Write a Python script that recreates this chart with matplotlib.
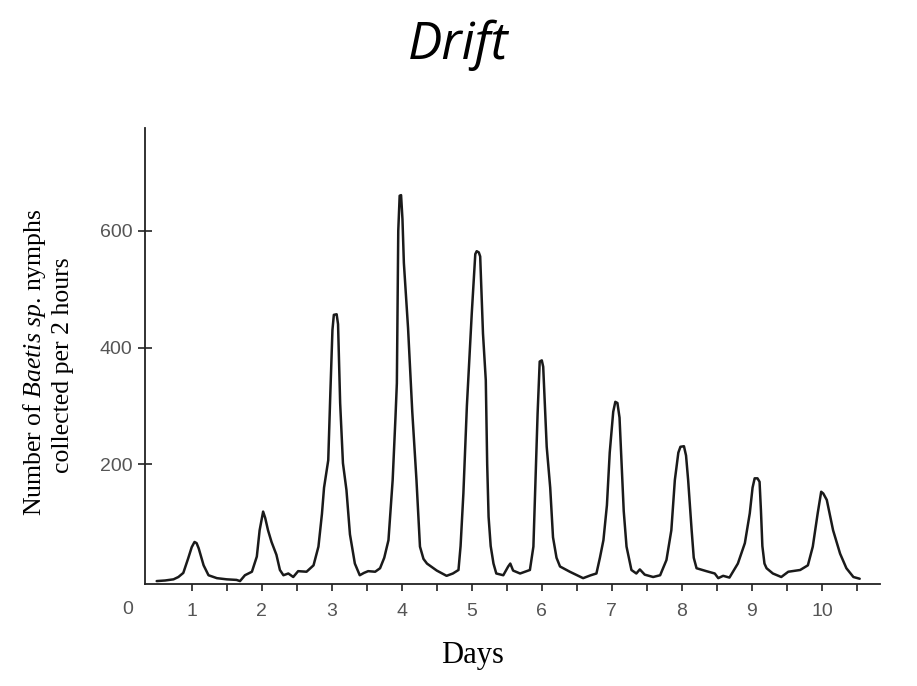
import matplotlib
matplotlib.use("Agg")
import matplotlib.pyplot as plt

plt.rcParams['mathtext.fontset'] = 'custom'
plt.rcParams['mathtext.rm'] = 'Liberation Serif'
plt.rcParams['mathtext.it'] = 'Liberation Serif:italic'

days = [0.50, 0.62, 0.74, 0.81, 0.88, 0.95, 1.00, 1.04, 1.07, 1.10, 1.17, 1.24, 1.36,
        1.50, 1.64, 1.69, 1.76, 1.86, 1.93, 1.97, 2.02, 2.05, 2.09, 2.14, 2.21, 2.26,
        2.31, 2.38, 2.45, 2.52, 2.64, 2.74, 2.81, 2.86, 2.89, 2.95, 2.98, 3.01, 3.03,
        3.07, 3.09, 3.12, 3.16, 3.21, 3.26, 3.33, 3.40, 3.46, 3.52, 3.62, 3.69, 3.75,
        3.81, 3.87, 3.91, 3.93, 3.95, 3.97, 3.99, 4.01, 4.03, 4.09, 4.15, 4.21, 4.26,
        4.31, 4.36, 4.50, 4.64, 4.73, 4.81, 4.84, 4.88, 4.93, 5.00, 5.05, 5.07, 5.10,
        5.12, 5.16, 5.20, 5.22, 5.24, 5.27, 5.31, 5.35, 5.45, 5.52, 5.55, 5.59, 5.69,
        5.83, 5.88, 5.91, 5.94, 5.97, 6.00, 6.02, 6.07, 6.12, 6.16, 6.21, 6.26, 6.40,
        6.59, 6.70, 6.78, 6.83, 6.88, 6.93, 6.97, 7.02, 7.05, 7.08, 7.11, 7.14, 7.17,
        7.21, 7.28, 7.35, 7.40, 7.47, 7.59, 7.69, 7.78, 7.85, 7.90, 7.95, 7.98, 8.03,
        8.06, 8.09, 8.14, 8.17, 8.21, 8.35, 8.47, 8.52, 8.59, 8.68, 8.80, 8.90, 8.97,
        9.01, 9.04, 9.08, 9.11, 9.13, 9.15, 9.18, 9.21, 9.30, 9.42, 9.52, 9.69, 9.80,
        9.87, 9.94, 9.99, 10.02, 10.07, 10.16, 10.26, 10.35, 10.45, 10.54]
nymphs = [0, 1, 3, 7, 14, 39, 58, 67, 65, 56, 27, 10, 5,
          3, 2, 0, 10, 16, 42, 87, 119, 108, 87, 67, 45, 19,
          10, 13, 7, 17, 16, 27, 59, 115, 160, 207, 322, 430, 456,
          457, 440, 305, 202, 156, 80, 30, 10, 14, 17, 16, 22, 40,
          70, 173, 280, 339, 600, 660, 661, 620, 545, 433, 290, 173, 59,
          38, 30, 18, 9, 13, 19, 60, 150, 300, 459, 560, 565, 563,
          556, 424, 344, 200, 110, 60, 30, 13, 10, 25, 30, 18, 13,
          19, 59, 173, 287, 376, 378, 367, 230, 160, 75, 40, 25, 16,
          5, 10, 13, 40, 70, 130, 220, 290, 307, 305, 280, 200, 120,
          59, 19, 13, 20, 11, 7, 10, 36, 87, 173, 220, 230, 231,
          215, 173, 87, 40, 22, 17, 13, 5, 9, 6, 30, 65, 116,
          160, 176, 176, 170, 120, 60, 30, 22, 13, 7, 16, 19, 27,
          59, 116, 153, 150, 139, 87, 47, 22, 7, 4]

x_ticks = [1, 2, 3, 4, 5, 6, 7, 8, 9, 10]
x_minor = [1.5, 2.5, 3.5, 4.5, 5.5, 6.5, 7.5, 8.5, 9.5, 10.5]
y_ticks = [200, 400, 600]

fig = plt.figure(figsize=(9.17, 6.86), dpi=100)
ax = fig.add_axes([145/917, 1 - 584/686, (880-145)/917, (584-128)/686])

ax.plot(days, nymphs, color='#1a1a1a', lw=1.8, solid_joinstyle='round',
        solid_capstyle='round')

ax.set_xlim(0.333, 10.83)
ax.set_ylim(-5, 776)

for s in ['top', 'right']:
    ax.spines[s].set_visible(False)
for s in ['left', 'bottom']:
    ax.spines[s].set_linewidth(1.3)
    ax.spines[s].set_color('#222222')

ax.set_xticks(x_ticks)
ax.set_xticklabels([str(t) for t in x_ticks])
ax.set_xticks(x_minor, minor=True)
ax.set_yticks(y_ticks)
ax.set_yticklabels([str(t) for t in y_ticks])

ax.tick_params(axis='x', which='both', direction='out', length=5, width=1.2,
               color='#222222', pad=9, labelsize=14, labelcolor='#555555')
ax.tick_params(axis='y', which='both', direction='inout', length=10, width=1.2,
               color='#222222', pad=4, labelsize=14, labelcolor='#555555')
for lab in ax.get_xticklabels() + ax.get_yticklabels():
    lab.set_fontfamily('Liberation Sans')

ax.text(-0.023, -0.038, '0', transform=ax.transAxes, ha='center', va='top',
        fontsize=14, color='#555555', family='Liberation Sans')

fig.text(458/917, 1 - 45/686, 'Drift', ha='center', va='center',
         fontsize=37, style='italic', family='Open Sans')

fig.text(473/917, 1 - 655/686, 'Days', ha='center', va='center',
         fontsize=22, family='Liberation Serif')

fig.text(35/917, 1 - 362/686, r'Number of $\mathit{Baetis\ sp}$. nymphs',
         rotation=90, ha='center', va='center', fontsize=18.5,
         family='Liberation Serif')
fig.text(63/917, 1 - 365/686, 'collected per 2 hours',
         rotation=90, ha='center', va='center', fontsize=18.5,
         family='Liberation Serif')

fig.savefig('out.png', dpi=100, facecolor='white')
